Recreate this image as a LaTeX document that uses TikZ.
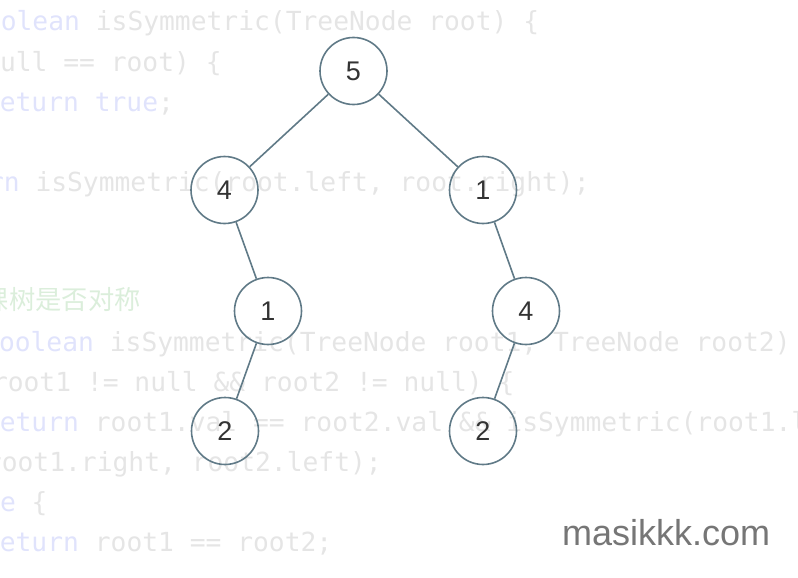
\documentclass[tikz,border=0pt]{standalone}
\usepackage{fontspec}
\newfontfamily\codefont{DejaVu Sans Mono}
\newfontfamily\cjkfont{Noto Sans CJK SC}
\newfontfamily\numfont{Liberation Sans}
\definecolor{codegray}{RGB}{229,229,229}
\definecolor{codekw}{RGB}{224,227,252}
\definecolor{codecmt}{RGB}{219,238,219}
\definecolor{treeline}{RGB}{96,122,135}
\definecolor{numgray}{RGB}{51,51,51}
\definecolor{markgray}{RGB}{118,118,118}
\newcommand{\kw}[1]{\textcolor{codekw}{#1}}
\frenchspacing
\begin{document}
\begin{tikzpicture}[x=1pt,y=-1pt,
  code/.style={anchor=base west,inner sep=0pt,outer sep=0pt,text=codegray,font=\codefont\fontsize{26.3}{30}\selectfont},
  tnode/.style={circle,draw=treeline,line width=1.6pt,minimum size=67pt,inner sep=0pt,text=numgray,font=\numfont\fontsize{27}{30}\selectfont},
  tedge/.style={draw=treeline,line width=1.6pt}]
\path [use as bounding box] (0,0) rectangle (798,578);
\clip (0,0) rectangle (798,578);
% faded code behind the tree
\node [code] (c1) at (-15,31) {\kw{oolean} isSymmetric(TreeNode root) \{};
\node [code] (c2) at (0,71) {ull == root) \{};
\node [code] (c3) at (-16,111) {\kw{return true};};
\node [code] (c5) at (-12,191) {\kw{rn} isSymmetric(root.left, root.right);};
\node [code,text=codecmt,font=\cjkfont\fontsize{26.3}{30}\selectfont] (c8) at (-17,309) {棵树是否对称};
\node [code] (c9) at (-1,351) {\kw{oolean} isSymmetric(TreeNode root1, TreeNode root2) \{};
\node [code] (c10) at (-8,391) {root1 != null \&\& root2 != null) \{};
\node [code] (c11) at (-16,431) {\kw{return} root1.val == root2.val \&\& isSymmetric(root1.left, root2.right)};
\node [code] (c12) at (-14,471) {root1.right, root2.left);};
\node [code] (c13) at (0,511) {\kw{e} \{};
\node [code] (c14) at (-16,551) {\kw{return} root1 == root2;};
% the tree
\node [tnode] (a5) at (353.5,71) {5};
\node [tnode] (b4) at (224.5,190) {4};
\node [tnode] (b1) at (483,190) {1};
\node [tnode] (c1n) at (268,311) {1};
\node [tnode] (c4n) at (526,311) {4};
\node [tnode] (d2l) at (225,431) {2};
\node [tnode] (d2r) at (483,431) {2};
\draw [tedge] (a5) -- (b4);
\draw [tedge] (a5) -- (b1);
\draw [tedge] (b4) -- (c1n);
\draw [tedge] (c1n) -- (d2l);
\draw [tedge] (b1) -- (c4n);
\draw [tedge] (c4n) -- (d2r);
% watermark
\node [anchor=base west,inner sep=0pt,text=markgray,font=\numfont\fontsize{36}{40}\selectfont] (mark) at (562,545) {masikkk.com};
\end{tikzpicture}
\end{document}
